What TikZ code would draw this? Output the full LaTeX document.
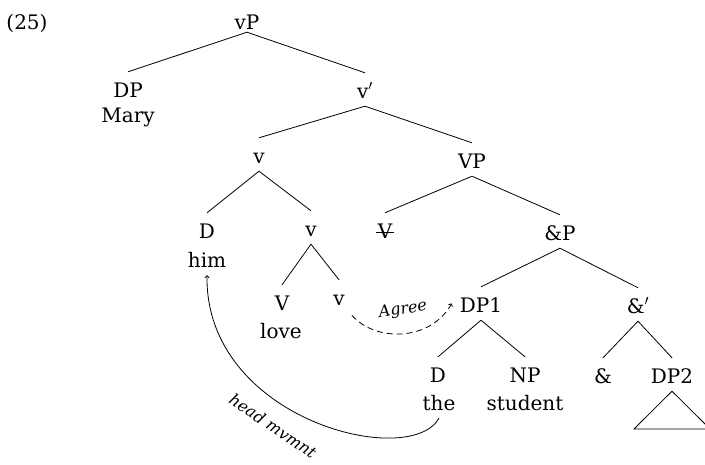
\documentclass[tikz,border=0pt]{standalone}
\usepackage{fontspec}
\setmainfont{DejaVu Serif}
\usetikzlibrary{arrows.meta,calc}
\begin{document}
\begin{tikzpicture}[x=1pt,y=-1pt,
  lab/.style={anchor=base,inner sep=0pt,text height=25pt,text depth=8pt,font=\fontsize{20}{24}\selectfont},
  wrd/.style={lab,text height=14pt},
  br/.style={line width=0.8pt},
  ann/.style={font=\fontsize{16}{18}\selectfont\itshape,inner sep=0pt},
  mv/.style={line width=0.8pt,-{To[length=3pt,width=5pt]}}]
\clip (0,0) rectangle (705,464);
\useasboundingbox (0,0) rectangle (705,464);
\node[lab,text height=14pt] (ex) at (27,29) {(25)};
\node[lab,text depth=2.5pt] (vP) at (247,29.5) {vP};
\node[lab] (DP) at (128,97) {DP};
\node[wrd] (Mary) at (128,122) {Mary};
\node[lab] (vbar) at (365,98) {v$'$};
\node[lab] (v1) at (259,163) {v};
\node[lab] (VP) at (472,168) {VP};
\node[lab] (D1) at (207,238) {D};
\node[wrd] (him) at (207,267) {him};
\node[lab] (v2) at (311,236) {v};
\node[lab] (Vs) at (385,238) {V};
\node[lab] (andP) at (560,240) {\&P};
\node[lab] (V) at (282,310) {V};
\node[wrd] (love) at (281,338) {love};
\node[lab] (v3) at (339,305) {v};
\node[lab] (DP1) at (481,312) {DP1};
\node[lab] (andbar) at (638,313) {\&$'$};
\node[lab] (D2) at (438,382) {D};
\node[wrd] (the) at (439,410) {the};
\node[lab] (NP) at (525,382) {NP};
\node[wrd] (student) at (525,410) {student};
\node[lab] (amp) at (603,383) {\&};
\node[lab] (DP2) at (672,383) {DP2};
\coordinate (tl) at (634,429);
\coordinate (tr) at (710,429);
\draw[br] ($(Vs.base west)+(-2,-6)$) -- ($(Vs.base east)+(2,-6)$);
\draw[br] (vP.south) -- (DP.north);
\draw[br] (vP.south) -- (vbar.north);
\draw[br] (vbar.south) -- (v1.north);
\draw[br] (vbar.south) -- (VP.north);
\draw[br] (v1.south) -- (D1.north);
\draw[br] (v1.south) -- (v2.north);
\draw[br] (VP.south) -- (Vs.north);
\draw[br] (VP.south) -- (andP.north);
\draw[br] (v2.south) -- (V.north);
\draw[br] (v2.south) -- (v3.north);
\draw[br] (andP.south) -- (DP1.north);
\draw[br] (andP.south) -- (andbar.north);
\draw[br] (DP1.south) -- (D2.north);
\draw[br] (DP1.south) -- (NP.north);
\draw[br] (andbar.south) -- (amp.north);
\draw[br] (andbar.south) -- (DP2.north);
\draw[br] (DP2.south) -- (tl) -- (tr) -- cycle;
\draw[mv,dash pattern=on 6pt off 4pt] ($(v3.south east)+(7,2)$) .. controls (375,342) and (430,342) .. ($(DP1.west)+(-8,0)$);
\node[ann,rotate=9] (agree) at (403,310) {Agree};
\draw[mv] (the.south) .. controls (410,470) and (205,420) .. (him.south);
\node[ann,rotate=-34] (hm) at (273,426) {head mvmnt};
\end{tikzpicture}
\end{document}
